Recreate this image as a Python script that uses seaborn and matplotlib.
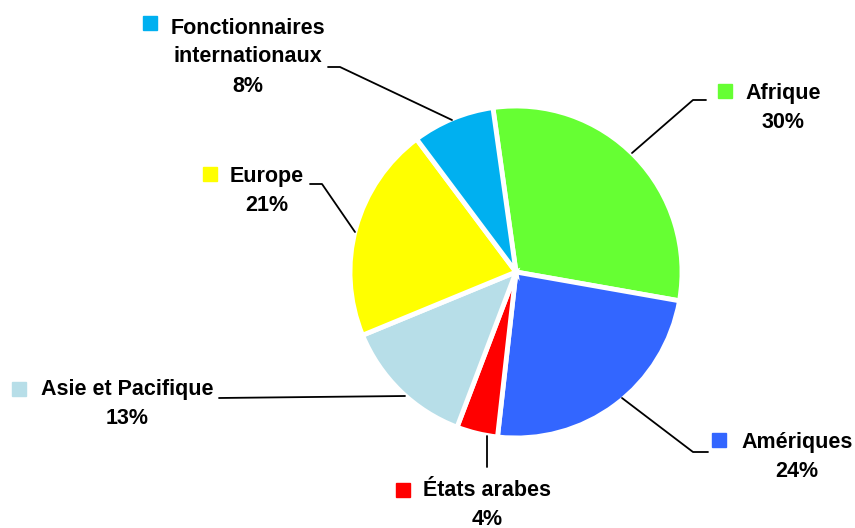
import matplotlib.pyplot as plt
import seaborn as sns

# Data (share of total, %)
categories = ["Afrique", "Amériques", "États arabes", "Asie et Pacifique", "Europe",
              "Fonctionnaires\ninternationaux"]
values = [30, 24, 4, 13, 21, 8]
colors = ["#66FF33", "#3366FF", "#FF0000", "#B7DEE8", "#FFFF00", "#00B0F0"]

# Layout of the callouts (pixel coords, y from top): text centre, square marker, leader line
text_pos = [(783, 108), (797, 457), (487, 505), (127, 404), (267, 191), (248, 57)]
marker_pos = [(725, 91), (719, 440), (403, 490), (19, 389), (210, 174), (150, 23)]
leaders = [
    [(632, 153), (693, 100), (706, 100)],
    [(622, 398), (693, 452), (708, 452)],
    [(487, 436), (487, 467)],
    [(405, 396), (219, 398)],
    [(355, 232), (322, 184), (310, 184)],
    [(452, 120), (340, 67), (328, 67)],
]

sns.set_theme(style="white")
plt.rcParams["font.family"] = ["Liberation Sans Narrow", "Liberation Sans", "DejaVu Sans"]

W, H = 855, 528
fig = plt.figure(figsize=(W / 100, H / 100), dpi=100)
ax = fig.add_axes([0, 0, 1, 1])

ax.pie(values, colors=colors, startangle=98, counterclock=False,
       center=(516, H - 272), radius=166,
       wedgeprops=dict(edgecolor="white", linewidth=3.5))

for cat, v, c, tp, mp, ln in zip(categories, values, colors, text_pos, marker_pos, leaders):
    ax.text(tp[0], H - tp[1], f"{cat}\n{v}%", ha="center", va="center",
            fontsize=15.5, fontweight="bold", linespacing=1.5, color="black")
    ax.plot(mp[0], H - mp[1], marker="s", markersize=10, color=c, linestyle="none")
    xs = [p[0] for p in ln]
    ys = [H - p[1] for p in ln]
    ax.plot(xs, ys, color="black", linewidth=1.3)

ax.set_xlim(0, W)
ax.set_ylim(0, H)
ax.set_aspect("equal")
ax.axis("off")

fig.savefig("out.png", dpi=100)
